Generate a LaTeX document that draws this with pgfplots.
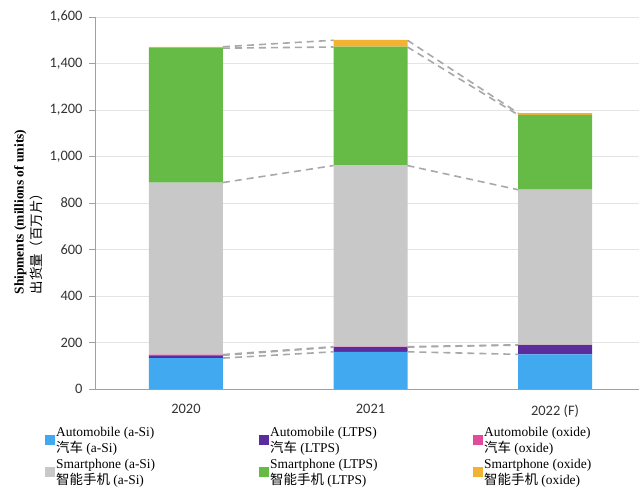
\documentclass[border=0pt]{standalone}
\usepackage{fontspec}
\setmainfont{Liberation Serif}
\newfontfamily\cjk{Noto Sans CJK SC}
\newfontfamily\carlito{Carlito}
\usepackage{pgfplots}
\pgfplotsset{compat=1.18}
\usepackage{pgfplotstable}

\definecolor{asiAuto}{HTML}{41A9F0}
\definecolor{ltpsAuto}{HTML}{5B2C9D}
\definecolor{oxideAuto}{HTML}{E24B9B}
\definecolor{asiPhone}{HTML}{C8C8C8}
\definecolor{ltpsPhone}{HTML}{66BB47}
\definecolor{oxidePhone}{HTML}{F4B233}
\definecolor{gridgray}{HTML}{E4E4E4}
\definecolor{axisgray}{HTML}{A0A0A0}
\definecolor{conngray}{HTML}{A8A8A8}

% Display shipments by application and backplane technology (millions of units)
\pgfplotstableread{
x  asiAuto ltpsAuto oxideAuto asiPhone ltpsPhone oxidePhone
0  133     12       3         740      578       6
1  160     20       2         781      510       29
2  149     40       1         667      322       8
}\shipments

\newcommand{\lentry}[2]{\parbox[c]{202bp}{\fontsize{13.5}{16}\selectfont #1\\#2}}

\tikzset{conn/.style={draw=conngray, line width=1.6bp, dash pattern=on 7bp off 5bp, mark=none}}

\begin{document}
\begin{tikzpicture}
\useasboundingbox (-95bp,-101bp) rectangle (544bp,389bp);
\begin{axis}[
  at={(0bp,0bp)}, anchor=south west,
  width=544bp, height=372bp, scale only axis,
  ybar stacked, bar width=74bp,
  xmin=-0.493, xmax=2.455, ymin=0, ymax=1600,
  xtick={0,1,2}, xticklabels={2020,2021,2022 (F)},
  major x tick style={draw=none},
  ytick={0,200,...,1600},
  ytick pos=left, tick align=outside, major tick length=6bp,
  major y tick style={draw=axisgray, line width=0.8bp},
  axis lines*=left,
  axis line style={-, draw=axisgray, line width=0.8bp},
  ymajorgrids, grid style={draw=gridgray, line width=0.8bp},
  /pgf/number format/assume math mode=true,
  /pgf/number format/1000 sep={,},
  ticklabel style={font=\carlito\fontsize{14.5}{16}\selectfont, text=black!80},
  xticklabel style={yshift=-6bp},
  yticklabel style={xshift=-3bp},
  ylabel={\textbf{Shipments (millions of units)}\\{\cjk 出货量（百万片）}},
  ylabel style={align=left, font=\fontsize{13.5}{18}\selectfont, at={(ticklabel cs:0.473)}, xshift=1bp},
  legend columns=3,
  legend cell align=left,
  legend image code/.code={\fill[#1, draw=none] (0bp,-9bp) rectangle (10bp,1bp);},
  legend style={draw=none, fill=none, at={(0,0)}, anchor=north west,
    xshift=-53bp, yshift=-35bp, row sep=12bp, nodes={inner sep=1bp}},
  every axis plot/.append style={draw=none},
]
\addplot[fill=asiAuto]    table[x=x, y=asiAuto]    {\shipments};
\addlegendentry{\lentry{Automobile (a-Si)}{{\cjk 汽车} (a-Si)}}
\addplot[fill=ltpsAuto]   table[x=x, y=ltpsAuto]   {\shipments};
\addlegendentry{\lentry{Automobile (LTPS)}{{\cjk 汽车} (LTPS)}}
\addplot[fill=oxideAuto]  table[x=x, y=oxideAuto]  {\shipments};
\addlegendentry{\lentry{Automobile (oxide)}{{\cjk 汽车} (oxide)}}
\addplot[fill=asiPhone]   table[x=x, y=asiPhone]   {\shipments};
\addlegendentry{\lentry{Smartphone (a-Si)}{{\cjk 智能手机} (a-Si)}}
\addplot[fill=ltpsPhone]  table[x=x, y=ltpsPhone]  {\shipments};
\addlegendentry{\lentry{Smartphone (LTPS)}{{\cjk 智能手机} (LTPS)}}
\addplot[fill=oxidePhone] table[x=x, y=oxidePhone] {\shipments};
\addlegendentry{\lentry{Smartphone (oxide)}{{\cjk 智能手机} (oxide)}}
\end{axis}

% Dashed connectors between the tops of matching segments of neighbouring bars
\begin{axis}[
  at={(0bp,0bp)}, anchor=south west,
  width=544bp, height=372bp, scale only axis,
  xmin=-0.493, xmax=2.455, ymin=0, ymax=1600,
  hide axis, unbounded coords=jump,
]
\addplot[conn] coordinates {(0.2,133) (0.8,160) (1,nan) (1.2,160) (1.8,149)};
\addplot[conn] coordinates {(0.2,145) (0.8,180) (1,nan) (1.2,180) (1.8,189)};
\addplot[conn] coordinates {(0.2,148) (0.8,182) (1,nan) (1.2,182) (1.8,190)};
\addplot[conn] coordinates {(0.2,888) (0.8,961) (1,nan) (1.2,961) (1.8,857)};
\addplot[conn] coordinates {(0.2,1466) (0.8,1471) (1,nan) (1.2,1471) (1.8,1179)};
\addplot[conn] coordinates {(0.2,1472) (0.8,1500) (1,nan) (1.2,1500) (1.8,1187)};
\end{axis}
\end{tikzpicture}
\end{document}
